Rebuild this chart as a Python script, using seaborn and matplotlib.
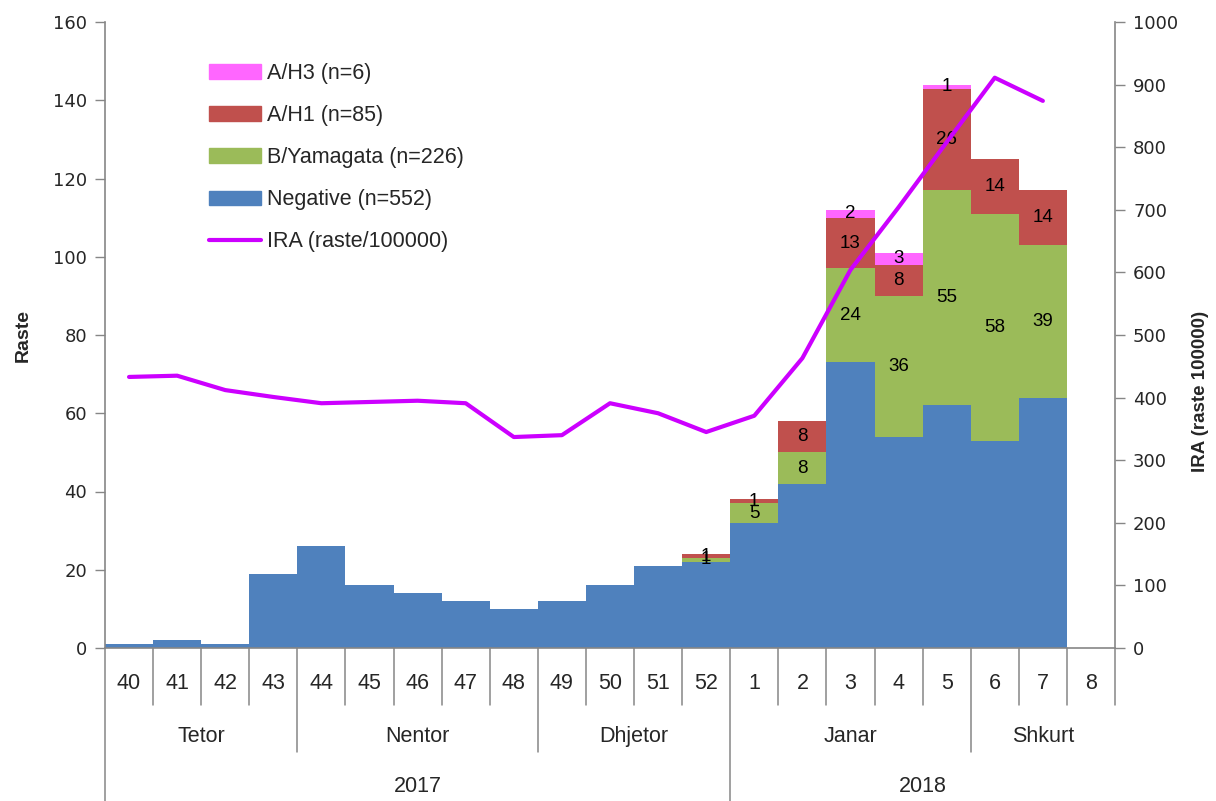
import numpy as np
import matplotlib
matplotlib.use("Agg")
import matplotlib.pyplot as plt
from matplotlib.patches import Patch
from matplotlib.lines import Line2D
import seaborn as sns

# ---------------- data ----------------
weeks = ["40", "41", "42", "43", "44", "45", "46", "47", "48", "49", "50", "51", "52",
         "1", "2", "3", "4", "5", "6", "7", "8"]
negative = [1, 2, 1, 19, 26, 16, 14, 12, 10, 12, 16, 21, 22, 32, 42, 73, 54, 62, 53, 64, 0]
b_yamagata = [0, 0, 0, 0, 0, 0, 0, 0, 0, 0, 0, 0, 1, 5, 8, 24, 36, 55, 58, 39, 0]
a_h1 = [0, 0, 0, 0, 0, 0, 0, 0, 0, 0, 0, 0, 1, 1, 8, 13, 8, 26, 14, 14, 0]
a_h3 = [0, 0, 0, 0, 0, 0, 0, 0, 0, 0, 0, 0, 0, 0, 0, 2, 3, 1, 0, 0, 0]
ira = [433, 435, 412, 401, 391, 393, 395, 391, 337, 340, 391, 375, 345,
       371, 463, 604, 704, 808, 911, 874]
months = ["Tetor", "Nentor", "Dhjetor", "Janar", "Shkurt"]
month_spans = [4, 5, 4, 5, 3]
years = ["2017", "2018"]
year_spans = [13, 8]
legend_labels = ["A/H3 (n=6)", "A/H1 (n=85)", "B/Yamagata (n=226)",
                 "Negative (n=552)", "IRA (raste/100000)"]

# ---------------- style ----------------
sns.set_style("white")
plt.rcParams["font.family"] = ["Liberation Sans", "DejaVu Sans"]

C_NEG = "#4F81BD"
C_B = "#9BBB59"
C_H1 = "#C0504D"
C_H3 = "#FF66FF"
C_LINE = "#CC00FF"
GRAY = "#868686"

fig = plt.figure(figsize=(12.16, 8.01), dpi=100)
ax = fig.add_axes([105 / 1216, 1 - 648 / 801, 1010 / 1216, 626 / 801])

neg = np.array(negative, float)
b = np.array(b_yamagata, float)
h1 = np.array(a_h1, float)
h3 = np.array(a_h3, float)
c1 = neg
c2 = c1 + b
c3 = c2 + h1
c4 = c3 + h3

for vals, col in [(c4, C_H3), (c3, C_H1), (c2, C_B), (c1, C_NEG)]:
    sns.barplot(x=weeks, y=vals, order=weeks, color=col, width=1.0,
                saturation=1, errorbar=None, linewidth=0, ax=ax)

# data labels (segment centres)
for series, base in [(b, c1), (h1, c2), (h3, c3)]:
    for i, v in enumerate(series):
        if v > 0:
            ax.text(i, base[i] + v / 2, f"{int(v)}", ha="center", va="center",
                    fontsize=13.5, color="black")

ax.set_ylim(0, 160)
ax.set_yticks(np.arange(0, 161, 20))
ax.set_ylabel("Raste", fontsize=14, fontweight="bold")
ax.yaxis.set_label_coords(-0.073, 0.5)
for lbl in ax.get_yticklabels():
    lbl.set_fontfamily("DejaVu Sans")
ax.tick_params(axis="y", direction="out", length=7, width=1, color=GRAY,
               labelsize=13, pad=6)
ax.tick_params(axis="x", length=0, labelbottom=False)
ax.set_xlabel("")
for s in ["top", "right"]:
    ax.spines[s].set_visible(False)
for s in ["left", "bottom"]:
    ax.spines[s].set_color(GRAY)
    ax.spines[s].set_linewidth(1.2)

# secondary axis with IRA line
ax2 = ax.twinx()
sns.lineplot(x=np.arange(len(ira)), y=ira, color=C_LINE, linewidth=3.0, ax=ax2)
ax2.set_ylim(0, 1000)
ax2.set_yticks(np.arange(0, 1001, 100))
for lbl in ax2.get_yticklabels():
    lbl.set_fontfamily("DejaVu Sans")
ax2.tick_params(axis="y", direction="out", length=7, width=1, color=GRAY,
                labelsize=13, pad=6)
ax2.tick_params(axis="x", length=0, labelbottom=False)
ax2.set_ylabel("IRA (raste 100000)", fontsize=13.5, fontweight="bold")
ax2.yaxis.set_label_coords(1.076, 0.41)
for s in ["top", "left", "bottom"]:
    ax2.spines[s].set_visible(False)
ax2.spines["right"].set_color(GRAY)
ax2.spines["right"].set_linewidth(1.2)
ax.set_xlim(-0.5, len(weeks) - 0.5)
ax2.set_xlim(-0.5, len(weeks) - 0.5)

# multi-level category axis
trans = ax.get_xaxis_transform()
n = len(weeks)
month_bounds = set(np.cumsum([0] + month_spans))
year_bounds = set(np.cumsum([0] + year_spans))
for k in range(n + 1):
    if k in year_bounds and k != n:
        depth = -0.246
    elif k in month_bounds and k != n:
        depth = -0.166
    else:
        depth = -0.091
    ax.plot([k - 0.5, k - 0.5], [0, depth], transform=trans, color=GRAY,
            linewidth=1.1, clip_on=False)
for i, w in enumerate(weeks):
    ax.text(i, -0.0575, w, transform=trans, ha="center", va="center", fontsize=15.5)
start = 0
for m, sp in zip(months, month_spans):
    ax.text(start + sp / 2 - 0.5, -0.1406, m, transform=trans, ha="center",
            va="center", fontsize=15.5)
    start += sp
start = 0
for y, sp in zip(years, year_spans):
    ax.text(start + sp / 2 - 0.5, -0.222, y, transform=trans, ha="center",
            va="center", fontsize=15.5)
    start += sp

# legend
handles = [Patch(color=C_H3), Patch(color=C_H1), Patch(color=C_B), Patch(color=C_NEG),
           Line2D([0], [0], color=C_LINE, linewidth=3.0)]
fig.legend(handles, legend_labels, loc="upper left",
           bbox_to_anchor=(209 / 1216, 1 - 63 / 801), frameon=False,
           fontsize=15.5, handlelength=2.4, handleheight=0.65, handletextpad=0.3,
           labelspacing=0.98, borderpad=0, borderaxespad=0)

fig.savefig("out.png", dpi=100, facecolor="white")
